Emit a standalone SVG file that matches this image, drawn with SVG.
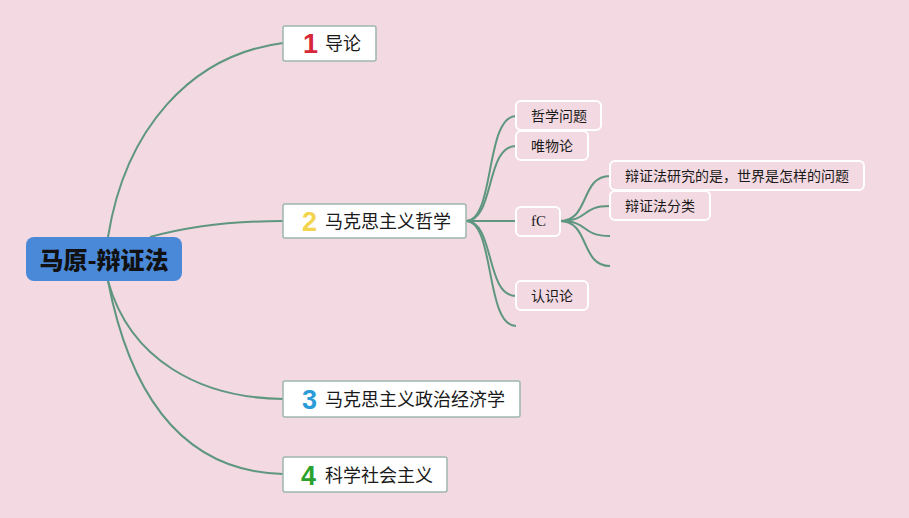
<svg xmlns="http://www.w3.org/2000/svg" width="909" height="518" viewBox="0 0 909 518">
<style>
.bg{fill:#F3D9E1}
.conn path{fill:none;stroke:#5E9680;stroke-width:2}
.main rect{fill:#FFFFFF;stroke:#9DB8AC;stroke-width:1.5}
.main text{font-family:"Noto Sans CJK SC","Noto Sans",sans-serif;font-size:18px;fill:#1a1a1a}
.main text.num{font-family:"Liberation Sans",Arial,sans-serif;font-weight:bold;font-size:27px}
.sub rect{fill:#F3D9E1;stroke:#FFFFFF;stroke-width:2}
.sub text{font-family:"Noto Sans CJK SC","Noto Sans",sans-serif;font-size:14px;fill:#1a1a1a}
.sub text.lat{font-family:"Liberation Serif",serif;font-size:15px}
</style>
<rect class="bg" x="0" y="0" width="909" height="518"/>
<g id="connectors" class="conn">
<path d="M108 237 C125 130 190 55 283 43"/>
<path d="M150 237 C190 226 230 221 283 221"/>
<path d="M108 281 C130 360 200 398 283 399"/>
<path d="M108 281 C135 420 200 472 283 474"/>
<path d="M466 221 C495 221 485 116 516 116"/>
<path d="M466 221 C495 221 485 146 516 146"/>
<path d="M466 221 L516 221"/>
<path d="M466 221 C495 221 485 296 516 296"/>
<path d="M466 221 C495 221 485 326 516 326"/>
<path d="M560 221 C590 221 580 176 610 176"/>
<path d="M560 221 C590 221 580 206 610 206"/>
<path d="M560 221 C590 221 580 236 610 236"/>
<path d="M560 221 C590 221 580 266 610 266"/>
</g>
<g id="root">
<rect x="26" y="237" width="156" height="44" rx="8" fill="#4A88D8"/>
<text x="104" y="269" text-anchor="middle" font-family="Noto Sans CJK SC,Noto Sans,sans-serif" font-weight="900" font-size="24" fill="#111">马原-辩证法</text>
</g>
<g id="n1" class="main">
<rect x="283" y="26" width="93" height="35" rx="2"/>
<text class="num" x="303" y="53" style="fill:#D7283A">1</text>
<text x="325" y="50">导论</text>
</g>
<g id="n2" class="main">
<rect x="283" y="204" width="183" height="34" rx="2"/>
<text class="num" x="302" y="231" style="fill:#F2D44E">2</text>
<text x="325" y="228">马克思主义哲学</text>
</g>
<g id="n3" class="main">
<rect x="283" y="381" width="237" height="36" rx="2"/>
<text class="num" x="302" y="409" style="fill:#2A9BD9">3</text>
<text x="325" y="406">马克思主义政治经济学</text>
</g>
<g id="n4" class="main">
<rect x="283" y="457" width="164" height="35" rx="2"/>
<text class="num" x="301" y="485" style="fill:#2AA12E">4</text>
<text x="325" y="482">科学社会主义</text>
</g>
<g id="s1" class="sub">
<rect x="516" y="101" width="85" height="29" rx="5"/>
<text x="531" y="121">哲学问题</text>
</g>
<g id="s2" class="sub">
<rect x="516" y="131" width="72" height="29" rx="5"/>
<text x="531" y="151">唯物论</text>
</g>
<g id="s3" class="sub">
<rect x="516" y="207" width="44" height="29" rx="5"/>
<text class="lat" x="531" y="226">fC</text>
</g>
<g id="s4" class="sub">
<rect x="516" y="281" width="72" height="29" rx="5"/>
<text x="531" y="301">认识论</text>
</g>
<g id="t1" class="sub">
<rect x="610" y="161" width="254" height="29" rx="5"/>
<text x="625" y="181">辩证法研究的是，世界是怎样的问题</text>
</g>
<g id="t2" class="sub">
<rect x="610" y="191" width="100" height="29" rx="5"/>
<text x="625" y="211">辩证法分类</text>
</g>
</svg>
